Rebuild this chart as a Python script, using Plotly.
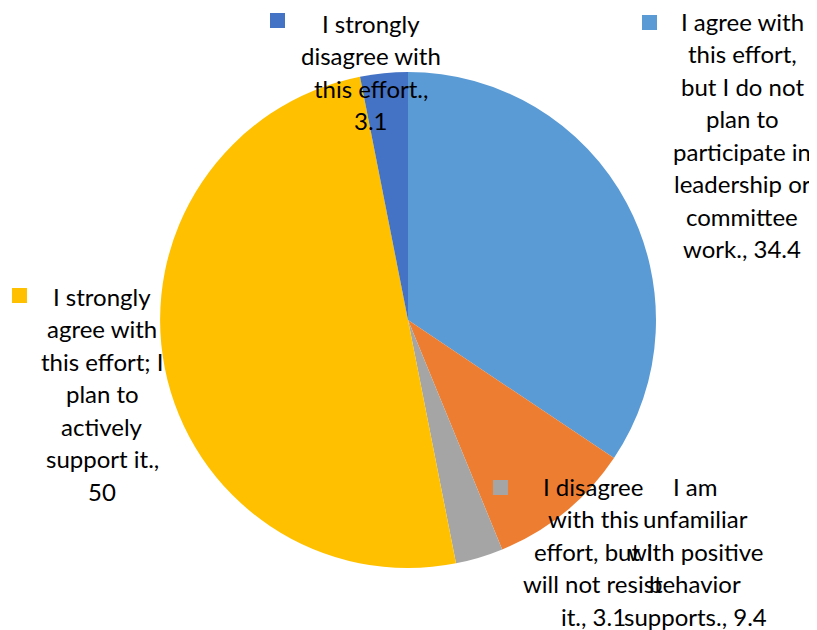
import plotly.graph_objects as go

# ---- data ----
categories = [
    "I agree with this effort, but I do not plan to participate in leadership or committee work.",
    "I am unfamiliar with positive behavior supports.",
    "I disagree with this effort, but I will not resist it.",
    "I strongly agree with this effort; I plan to actively support it.",
    "I strongly disagree with this effort.",
]
values = [34.4, 9.4, 3.1, 50, 3.1]
colors = ["#5B9BD5", "#ED7D31", "#A5A5A5", "#FFC000", "#4472C4"]

# label text broken into lines as in the reference
label_lines = [
    ["I agree with", "this effort,", "but I do not", "plan to", "participate in",
     "leadership or", "committee", "work., 34.4"],
    ["I am", "unfamiliar", "with positive", "behavior", "supports., 9.4"],
    ["I disagree", "with this", "effort, but I", "will not resist", "it., 3.1"],
    ["I strongly", "agree with", "this effort; I", "plan to", "actively",
     "support it.,", "50"],
    ["I strongly", "disagree with", "this effort.,", "3.1"],
]

# ---- layout (pixels in the 817x630 window; page body has an 8px margin) ----
OFF = 8
W, H = 817 - OFF, 630 - OFF
label_center_x = [742, 695, 593, 102, 371]
label_first_baseline = [30, 495, 495, 305, 32]
key_pos = [(642, 15), (None, None), (493, 480), (12, 288), (270, 13)]
LINE = 32.5
FONT = "Lato"
FSIZE = 24
KEY = 15


def px(x):
    return (x - OFF) / W


def py(y):
    return 1 - (y - OFF) / H


fig = go.Figure()
fig.add_trace(go.Pie(
    labels=categories,
    values=values,
    marker=dict(colors=colors, line=dict(width=0)),
    sort=False,
    direction="clockwise",
    rotation=0,
    textinfo="none",
    hoverinfo="label+value",
    showlegend=False,
    domain=dict(x=[px(160), px(656)], y=[py(568), py(72)]),
))

annotations = []
for cx, b0, lines in zip(label_center_x, label_first_baseline, label_lines):
    for i, txt in enumerate(lines):
        base = b0 + i * LINE
        ymid = base - 0.36 * FSIZE
        annotations.append(dict(
            x=px(cx), y=py(ymid), xref="paper", yref="paper",
            text=txt, showarrow=False, xanchor="center", yanchor="middle",
            font=dict(family=FONT, size=FSIZE, color="#000000"),
        ))

shapes = []
for (kx, ky), c in zip(key_pos, colors):
    if kx is None:
        continue
    shapes.append(dict(
        type="rect", xref="paper", yref="paper",
        x0=px(kx), x1=px(kx + KEY), y0=py(ky + KEY), y1=py(ky),
        fillcolor=c, line=dict(width=0),
    ))

fig.update_layout(
    width=W, height=H,
    margin=dict(l=0, r=0, t=0, b=0),
    paper_bgcolor="white", plot_bgcolor="white",
    annotations=annotations, shapes=shapes,
)

fig.write_html("out.html")
